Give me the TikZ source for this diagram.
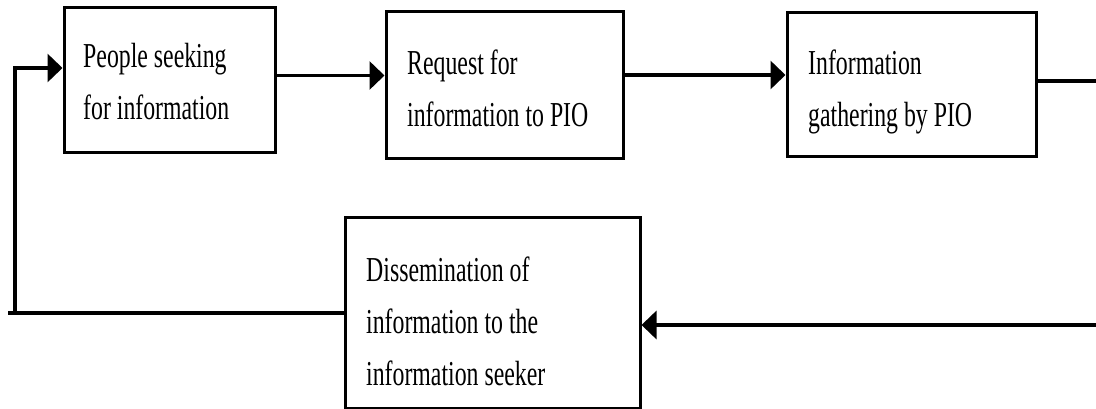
\documentclass[tikz,border=0pt]{standalone}
\usepackage{fontspec}
\setmainfont{Liberation Serif}[FakeStretch=0.68]
\usetikzlibrary{arrows.meta}

\tikzset{
  stepbox/.style={draw=black, line width=3pt, fill=none, rectangle, inner sep=0pt},
  % captions are placed by the baseline of their last line
  steptext/.style={anchor=base west, inner sep=0pt, align=left,
    font=\fontsize{35pt}{52pt}\selectfont, text=black},
  flow/.style={line width=3.2pt, draw=black},
  flowarrow/.style={flow, -{Triangle[length=15pt, width=28pt]}}
}

\begin{document}
\begin{tikzpicture}[x=1pt, y=-1pt]
  \useasboundingbox (0,0) rectangle (1096,409);

  % process boxes
  \node[stepbox, minimum width=211pt, minimum height=145pt] (b1) at (169.5,80.5) {};
  \node[stepbox, minimum width=237pt, minimum height=147pt] (b2) at (504.5,85.5) {};
  \node[stepbox, minimum width=249pt, minimum height=144pt] (b3) at (911.5,85) {};
  \node[stepbox, minimum width=295pt, minimum height=190pt] (b4) at (492.5,313) {};

  % box captions
  \node[steptext] (t1) at (83,120) {People seeking\\for information};
  \node[steptext] (t2) at (407,127) {Request for\\information to PIO};
  \node[steptext] (t3) at (808,127) {Information\\gathering by PIO};
  \node[steptext] (t4) at (366,385) {Dissemination of\\information to the\\information seeker};

  % loose ends of the return path
  \coordinate (r1) at (1096,81);
  \coordinate (r2) at (1096,325);
  \coordinate (l1) at (8,313);
  \coordinate (l2) at (15,313);
  \coordinate (l3) at (15,68);

  % forward flow
  \draw[flowarrow] ([yshift=5pt]b1.east) -- ([yshift=5pt]b1.east -| b2.west);
  \draw[flowarrow] ([yshift=10.5pt]b2.east) -- ([yshift=10.5pt]b2.east -| b3.west);
  \draw[flow] ([yshift=4pt]b3.east) -- (r1);

  % return flow
  \draw[flowarrow] (r2) -- (r2 -| b4.east);
  \draw[flow] (b4.west) -- (l1);
  \draw[flowarrow] (l2) -- (l3) -- (l3 -| b1.west);
\end{tikzpicture}
\end{document}
